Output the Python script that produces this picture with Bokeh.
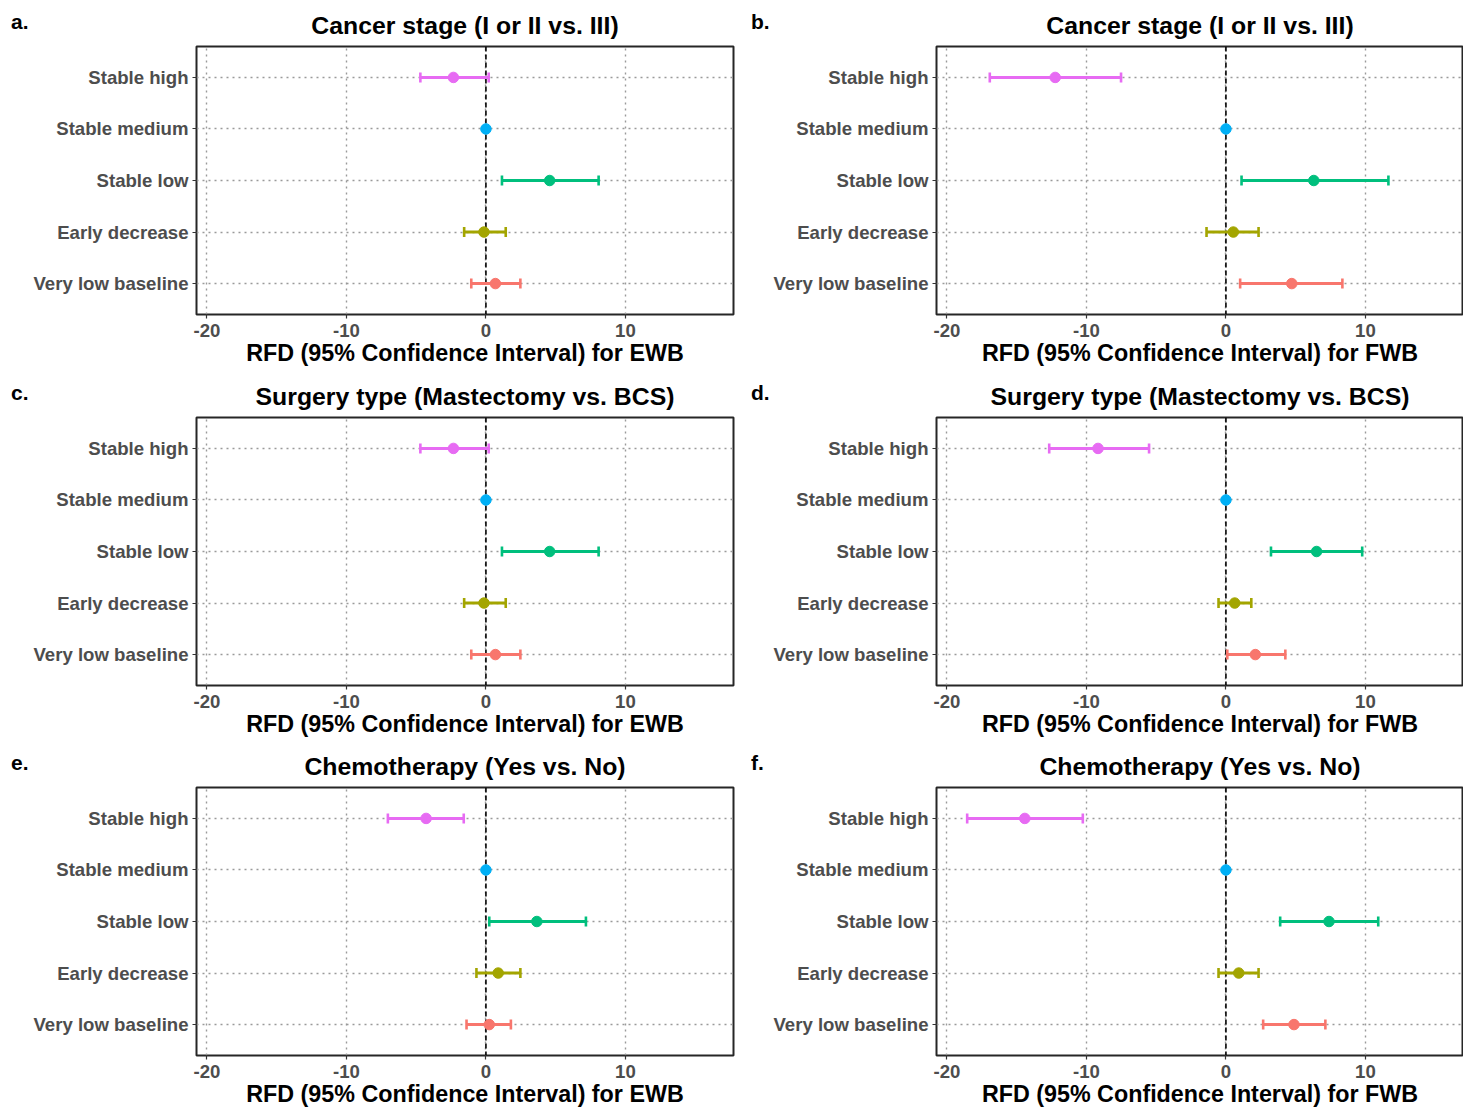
import numpy as np
from bokeh.plotting import figure
from bokeh.layouts import column, row
from bokeh.models import Span, Div, FixedTicker, ColumnDataSource, Range1d, FactorRange
from bokeh.embed import file_html
from bokeh.resources import INLINE

# ---------------- data ----------------
categories = ["Very low baseline", "Early decrease", "Stable low", "Stable medium", "Stable high"]
colors = ["#F8766D", "#A3A500", "#00BF7D", "#00B0F6", "#E76BF3"]
x_ticks = [-20, -10, 0, 10]
x_tick_labels = ["-20", "-10", "0", "10"]

letters = ["a.", "b.", "c.", "d.", "e.", "f."]
titles = ["Cancer stage (I or II vs. III)", "Cancer stage (I or II vs. III)",
          "Surgery type (Mastectomy vs. BCS)", "Surgery type (Mastectomy vs. BCS)",
          "Chemotherapy (Yes vs. No)", "Chemotherapy (Yes vs. No)"]
xlabels = ["RFD (95% Confidence Interval) for EWB", "RFD (95% Confidence Interval) for FWB"] * 3

# order: Very low baseline, Early decrease, Stable low, Stable medium, Stable high
a_est = [0.68, -0.14, 4.57, 0.0, -2.33]
a_lo = [-1.05, -1.56, 1.15, None, -4.70]
a_hi = [2.47, 1.42, 8.08, None, 0.20]

b_est = [4.72, 0.53, 6.30, 0.0, -12.24]
b_lo = [1.02, -1.39, 1.12, None, -16.93]
b_hi = [8.35, 2.34, 11.65, None, -7.52]

c_est = [0.68, -0.14, 4.57, 0.0, -2.33]
c_lo = [-1.05, -1.56, 1.15, None, -4.70]
c_hi = [2.47, 1.42, 8.08, None, 0.20]

d_est = [2.11, 0.63, 6.50, 0.0, -9.17]
d_lo = [0.10, -0.53, 3.23, None, -12.67]
d_hi = [4.26, 1.82, 9.77, None, -5.51]

e_est = [0.24, 0.88, 3.65, 0.0, -4.29]
e_lo = [-1.39, -0.68, 0.24, None, -7.03]
e_hi = [1.79, 2.47, 7.17, None, -1.59]

f_est = [4.88, 0.92, 7.39, 0.0, -14.42]
f_lo = [2.67, -0.53, 3.89, None, -18.55]
f_hi = [7.13, 2.34, 10.92, None, -10.26]

panels = [(a_est, a_lo, a_hi), (b_est, b_lo, b_hi), (c_est, c_lo, c_hi),
          (d_est, d_lo, d_hi), (e_est, e_lo, e_hi), (f_est, f_lo, f_hi)]

FONT = "Liberation Sans"
X_START = -20.75
LEFT_FW = 537
RIGHT_FW = 527
PX_PER_UNIT = LEFT_FW / 38.5
FRAME_H = 268
TOP = 46
LETTER_W = 30
bottoms = [57, 56, 52]


def make_panel(i):
    est, lo, hi = panels[i]
    is_right = (i % 2 == 1)
    r = i // 2
    fw = RIGHT_FW if is_right else LEFT_FW
    x_end = X_START + fw / PX_PER_UNIT
    p = figure(
        y_range=FactorRange(factors=categories, range_padding=0.04),
        x_range=Range1d(X_START, x_end),
        frame_width=fw, frame_height=FRAME_H,
        min_border_left=196 - LETTER_W, min_border_right=(0 if is_right else 7),
        min_border_top=TOP, min_border_bottom=bottoms[r],
        output_backend="svg", toolbar_location=None,
        title=titles[i],
    )
    p.background_fill_color = "white"
    p.border_fill_color = "white"
    p.outline_line_color = "#262626"
    p.outline_line_width = 2

    p.title.align = "center"
    p.title.text_font = FONT
    p.title.text_font_style = "bold"
    p.title.text_font_size = "24.8px"
    p.title.text_color = "#000000"
    p.title.standoff = 16

    p.xaxis.ticker = FixedTicker(ticks=x_ticks)
    p.xaxis.major_label_overrides = {t: s for t, s in zip(x_ticks, x_tick_labels)}
    p.xaxis.axis_label = xlabels[i]
    p.xaxis.axis_label_text_font = FONT
    p.xaxis.axis_label_text_font_style = "bold"
    p.xaxis.axis_label_text_font_size = "23.3px"
    p.xaxis.axis_label_text_color = "#000000"
    p.xaxis.axis_label_standoff = 0

    for ax in (p.xaxis, p.yaxis):
        ax.axis_line_color = None
        ax.major_tick_line_color = "#333333"
        ax.major_tick_line_width = 1.2
        ax.major_tick_out = 4
        ax.major_tick_in = 0
        ax.minor_tick_line_color = None
        ax.major_label_text_font = FONT
        ax.major_label_text_font_style = "bold"
        ax.major_label_text_font_size = "18.6px"
        ax.major_label_text_color = "#4D4D4D"
    p.xaxis.major_label_standoff = 5
    p.yaxis.major_label_standoff = 4

    for g in (p.xgrid, p.ygrid):
        g.grid_line_color = "#9A9A9A"
        g.grid_line_dash = "2 4"
        g.grid_line_width = 1.4

    zero = Span(location=0, dimension="height", line_color="#000000",
                line_dash="5 3", line_width=1.6, level="underlay")
    p.add_layout(zero)

    src = ColumnDataSource(dict(
        cat=categories, est=est,
        lo=np.array(lo, dtype=float), hi=np.array(hi, dtype=float),
        color=colors,
    ))
    p.segment(x0="lo", y0="cat", x1="hi", y1="cat", line_color="color",
              line_width=3, source=src)
    p.scatter(x="lo", y="cat", marker="dash", angle=np.pi / 2, size=10,
              line_color="color", line_width=2.6, source=src)
    p.scatter(x="hi", y="cat", marker="dash", angle=np.pi / 2, size=10,
              line_color="color", line_width=2.6, source=src)
    p.scatter(x="est", y="cat", size=10.5, fill_color="color", line_color="color",
              source=src)

    fig_h = TOP + FRAME_H + bottoms[r]
    letter = Div(
        text=(f'<div style="font-family:\'{FONT}\';font-size:21px;font-weight:bold;'
              f'color:#000;line-height:21px;padding-left:11px;padding-top:11px;">'
              f'{letters[i]}</div>'),
        width=LETTER_W, height=fig_h, margin=0,
    )
    return letter, p


items = [make_panel(i) for i in range(6)]
rows = []
for r in range(3):
    (l1, f1), (l2, f2) = items[2 * r], items[2 * r + 1]
    rows.append(row(l1, f1, l2, f2))
layout = column(*rows)

open("out.html", "w").write(file_html(layout, INLINE))
